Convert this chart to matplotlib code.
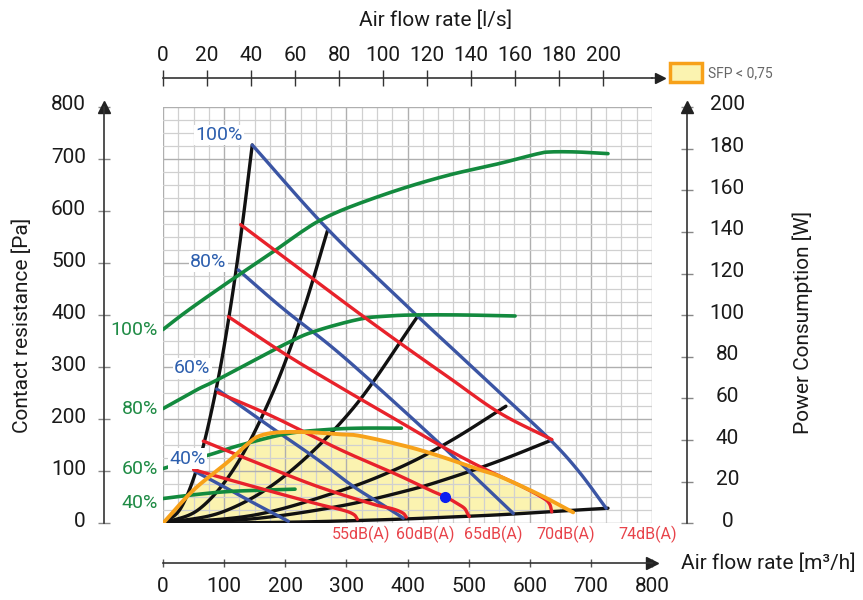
import numpy as np
import matplotlib
matplotlib.use('Agg')
import matplotlib.pyplot as plt
from matplotlib.patches import Patch
from matplotlib.transforms import ScaledTranslation

plt.rcParams['font.family'] = ['Roboto', 'DejaVu Sans']

# ---- data (air flow in m3/h, pressure in Pa, power in W) ----
# system curves (black)
sys1_q = [0, 30, 60, 88, 110, 129, 146]
sys1_p = [0, 31, 123, 264, 412, 567, 727]
sys2_q = [0, 60, 120, 180, 229, 269]
sys2_p = [0, 28, 112, 252, 407, 562]
sys3_q = [0, 100, 200, 311, 418]
sys3_p = [0, 23, 92, 221, 400]
sys4_q = [0, 150, 289, 387, 470, 561]
sys4_p = [0, 16, 62, 107, 158, 225]
sys5_q = [0, 150, 289, 400, 469, 550, 636]
sys5_p = [0, 9, 33, 63, 87, 120, 160]
sys6_q = [0, 200, 364, 469, 560, 671, 728]
sys6_p = [0, 2, 7, 12, 17, 25, 29]

# fan curves (blue) at 100/80/60/40 %
fan100_q = [146, 268, 404, 486, 551, 633, 680, 725]
fan100_p = [727, 567, 412, 322, 251, 161, 100, 29]
fan80_q = [123, 197, 275, 349, 460, 573]
fan80_p = [487, 412, 340, 264, 145, 19]
fan60_q = [88, 170, 250, 310, 360, 393]
fan60_p = [258, 190, 125, 72, 35, 10]
fan40_q = [52, 100, 150, 205]
fan40_p = [100, 70, 38, 4]

# sound level isolines (red)
db74_q = [127, 220, 311, 387, 469, 551, 636]
db74_p = [574, 492, 412, 347, 279, 212, 161]
db70_q = [107, 200, 295, 380, 453, 520, 580, 620, 632, 636]
db70_p = [397, 325, 258, 200, 150, 108, 75, 50, 38, 22]
db65_q = [90, 180, 289, 380, 440, 462, 480, 493, 498, 501]
db65_p = [251, 205, 142, 95, 62, 51, 39, 29, 19, 13]
db60_q = [66, 150, 250, 340, 375, 392, 398]
db60_p = [158, 118, 72, 38, 28, 20, 12]
db55_q = [50, 150, 250, 295, 312, 318]
db55_p = [103, 70, 38, 25, 17, 8]
db_labels = ['55dB(A)', '60dB(A)', '65dB(A)', '70dB(A)', '74dB(A)']

# power consumption (green, W)
pow100_q = [0, 41, 110, 180, 229, 260, 306, 388, 469, 551, 611, 633, 676, 728]
pow100_w = [93.1, 102.3, 116.5, 130.4, 140.5, 146, 152, 160.5, 167.4, 172.9, 177.4, 178.4, 178.4, 177.6]
pow80_q = [0, 55, 88, 202, 250, 322, 370, 414, 486, 576]
pow80_w = [55.1, 64.1, 68.8, 86.4, 92.4, 98.1, 99.6, 100.1, 100.1, 99.6]
pow60_q = [0, 77, 126, 202, 267, 322, 390]
pow60_w = [26.3, 33, 37.5, 43, 45, 45.7, 45.7]
pow40_q = [0, 50, 104, 160, 216]
pow40_w = [11.9, 13.7, 15.2, 15.9, 16.4]

# SFP < 0,75 boundary (orange)
sfp_q = [0, 50, 104, 137, 158, 191, 240, 289, 322, 398, 453, 518, 551, 616, 671]
sfp_p = [0, 64, 116, 151, 168, 175, 175, 171, 168, 148, 129, 103, 90, 55, 21]

# operating point
op_q = [462]
op_p = [51]

speed_labels = ['100%', '80%', '60%', '40%']


def smooth(qs, ps, n=16):
    # catmull-rom through the read points, just for drawing
    pts = np.column_stack([qs, ps]).astype(float)
    pts = np.vstack([2 * pts[0] - pts[1], pts, 2 * pts[-1] - pts[-2]])
    t = np.linspace(0, 1, n, endpoint=False)[:, None]
    out = []
    for i in range(1, len(pts) - 2):
        p0, p1, p2, p3 = pts[i - 1], pts[i], pts[i + 1], pts[i + 2]
        out.append(0.5 * (2 * p1 + (p2 - p0) * t + (2 * p0 - 5 * p1 + 4 * p2 - p3) * t ** 2
                          + (3 * p1 - p0 - 3 * p2 + p3) * t ** 3))
    out.append(pts[-2][None])
    out = np.vstack(out)
    return out[:, 0], out[:, 1]


def w_to_pa(w):
    return np.asarray(w) * 4.0


BLACK = '#111111'
BLUE = '#3b55a4'
RED = '#e8222b'
GREEN = '#138a3e'
ORANGE = '#f7a11a'
FILL = '#fbf3b0'

fig = plt.figure(figsize=(8.63, 6.0), dpi=100)
ax = fig.add_axes([163 / 863, 76.7 / 600, 489 / 863, 416.3 / 600])
ax.set_xlim(0, 800)
ax.set_ylim(0, 800)

# grid
ax.set_xticks(np.arange(0, 801, 100))
ax.set_xticks(np.arange(0, 801, 25), minor=True)
ax.set_yticks(np.arange(0, 801, 100))
ax.set_yticks(np.arange(0, 801, 25), minor=True)
ax.grid(which='minor', color='#d0d0d0', lw=0.9)
ax.grid(which='major', color='#afafaf', lw=1.0)
ax.set_axisbelow(True)
ax.tick_params(which='minor', length=0)
ax.tick_params(axis='x', which='major', direction='inout', length=6, width=1,
               color='#555555', labelsize=15, pad=7, labelcolor='#1a1a1a')
ax.tick_params(axis='y', which='major', direction='inout', length=8, width=1,
               color='#888888', labelsize=15, pad=9, labelcolor='#1a1a1a')
ax.spines['left'].set_position(('outward', 59 * 0.72))
ax.spines['bottom'].set_position(('outward', 40 * 0.72))
ax.spines[['top', 'right']].set_visible(False)
for s in ['left', 'bottom']:
    ax.spines[s].set_color('#333333')
    ax.spines[s].set_linewidth(1.2)

top = ax.secondary_xaxis(1 + 29 / 416.3, functions=(lambda q: q / 3.6, lambda l: l * 3.6))
top.set_xticks(np.arange(0, 201, 20))
top.tick_params(direction='inout', length=11, width=1, color='#333333',
                labelsize=15, pad=4, labelcolor='#1a1a1a')
top.spines['top'].set_color('#333333')
top.spines['top'].set_linewidth(1.2)

right = ax.secondary_yaxis(1 + 35 / 489, functions=(lambda p: p / 4.0, lambda w: w * 4.0))
right.set_yticks(np.arange(0, 201, 20))
right.tick_params(direction='inout', length=8, width=1, color='#888888',
                  labelsize=15, pad=25, labelcolor='#1a1a1a')
right.spines['right'].set_color('#333333')
right.spines['right'].set_linewidth(1.2)

# the scale numbers sit a little above their ticks
lift = ScaledTranslation(0, 4 / 100, fig.dpi_scale_trans)
for t in ax.get_yticklabels():
    t.set_transform(t.get_transform() + lift)
for t in right.get_yticklabels():
    t.set_ha('center')
    t.set_transform(t.get_transform() + lift)


# arrow heads on the scales
def shifted(dx, dy):
    return ax.transAxes + ScaledTranslation(dx / 100, dy / 100, fig.dpi_scale_trans)


ax.plot([0], [1], marker='^', color='#222222', ms=8, transform=shifted(-59, 0), clip_on=False)
ax.plot([1], [0], marker='>', color='#222222', ms=8, transform=shifted(0, -40), clip_on=False)
ax.plot([1, 1 + 8 / 489], [1, 1], color='#333333', lw=1.2, transform=shifted(0, 29), clip_on=False)
ax.plot([1 + 8 / 489], [1], marker='>', color='#222222', ms=7, transform=shifted(0, 29), clip_on=False)
ax.plot([1], [1], marker='^', color='#222222', ms=8, transform=shifted(35, 0), clip_on=False)

# SFP area
fq, fp = smooth(sfp_q, sfp_p)
bq, bp = smooth(sys6_q[:6], sys6_p[:6])
ax.fill(np.r_[fq, bq[::-1]], np.r_[fp, bp[::-1]], color=FILL, lw=0, zorder=0.3)

for q, p in [(sys1_q, sys1_p), (sys2_q, sys2_p), (sys3_q, sys3_p),
             (sys4_q, sys4_p), (sys5_q, sys5_p), (sys6_q, sys6_p)]:
    ax.plot(*smooth(q, p), color=BLACK, lw=2.4, solid_capstyle='round', zorder=3)

for q, p in [(fan100_q, fan100_p), (fan80_q, fan80_p), (fan60_q, fan60_p), (fan40_q, fan40_p)]:
    ax.plot(*smooth(q, p), color=BLUE, lw=2.4, solid_capstyle='round', zorder=3.2)

for q, w in [(pow100_q, pow100_w), (pow80_q, pow80_w), (pow60_q, pow60_w), (pow40_q, pow40_w)]:
    sq, sw = smooth(q, w)
    ax.plot(sq, w_to_pa(sw), color=GREEN, lw=2.6, solid_capstyle='round', zorder=3.4)

for q, p in [(db74_q, db74_p), (db70_q, db70_p), (db65_q, db65_p), (db60_q, db60_p), (db55_q, db55_p)]:
    ax.plot(*smooth(q, p), color=RED, lw=2.4, solid_capstyle='round', zorder=3.6)

ax.plot(*smooth(sfp_q, sfp_p), color=ORANGE, lw=2.8, solid_capstyle='round', zorder=4)
ax.plot(op_q, op_p, 'o', color='#0b1ff0', ms=7, zorder=6)

# speed labels on the fan curves
for (x, y), lbl in zip([(92, 746), (74, 503), (48, 298), (40, 124)], speed_labels):
    ax.text(x, y, lbl, color='#2d5fae', fontsize=14, ha='center', va='center', zorder=7,
            bbox=dict(fc='white', ec='none', pad=1.0))

# speed labels on the power curves
for w0, dy, lbl in zip([pow100_w[0], pow80_w[0], pow60_w[0], pow40_w[0]], [0, 0, 0, -8], speed_labels):
    ax.text(-8, w_to_pa(w0) + dy, lbl, color='#1f8b45', fontsize=14, ha='right', va='center',
            clip_on=False)

for x, lbl in zip([324, 429, 540, 659, 793], db_labels):
    ax.text(x, -22, lbl, color='#e8434a', fontsize=11.5, ha='center', va='center', clip_on=False)

# axis titles
fig.text(436 / 863, 1 - 20 / 600, 'Air flow rate [l/s]', ha='center', va='center',
         fontsize=15, color='#1a1a1a')
fig.text(681 / 863, 1 - 563 / 600, 'Air flow rate [m³/h]', ha='left', va='center',
         fontsize=15, color='#1a1a1a')
fig.text(22 / 863, 1 - 325 / 600, 'Contact resistance [Pa]', rotation=90, ha='center',
         va='center', fontsize=15, color='#1a1a1a')
fig.text(803 / 863, 1 - 322 / 600, 'Power Consumption [W]', rotation=90, ha='center',
         va='center', fontsize=15, color='#1a1a1a')

fig.legend(handles=[Patch(facecolor=FILL, edgecolor=ORANGE, lw=2.5)], labels=['SFP < 0,75'],
           loc='center left', bbox_to_anchor=(670 / 863, 1 - 72.5 / 600), frameon=False,
           handlelength=2.3, handleheight=1.65, handletextpad=0.45, borderpad=0,
           borderaxespad=0, fontsize=10, labelcolor='#666666')

fig.savefig('out.png', dpi=100, facecolor='white')
